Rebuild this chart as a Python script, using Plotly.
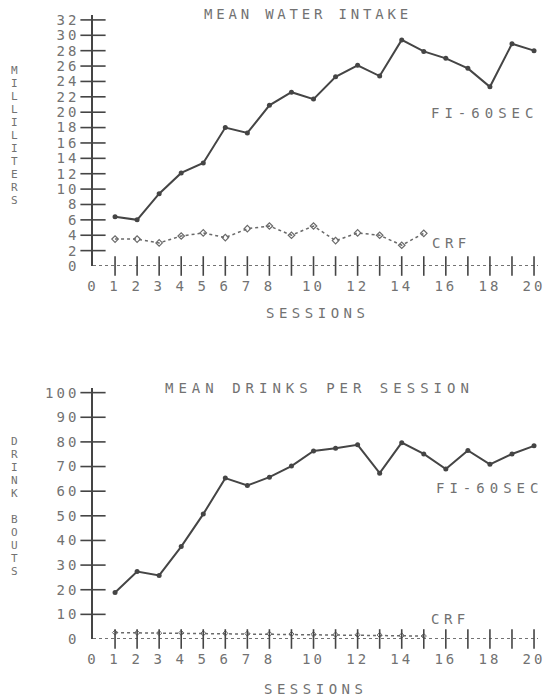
import plotly.graph_objects as go

# ---------------- data ----------------
sessions = list(range(1, 21))
crf_sessions = list(range(1, 16))
water_fi = [6.4, 6.0, 9.4, 12.1, 13.4, 18.0, 17.3, 20.9, 22.6, 21.7,
            24.6, 26.1, 24.7, 29.4, 27.9, 27.0, 25.7, 23.3, 28.9, 28.0]
water_crf = [3.5, 3.5, 3.0, 3.9, 4.3, 3.7, 4.85, 5.2, 4.0, 5.2,
             3.3, 4.3, 4.0, 2.7, 4.25]
drinks_fi = [18.9, 27.4, 25.8, 37.5, 50.7, 65.3, 62.3, 65.7, 70.2, 76.3,
             77.4, 78.8, 67.3, 79.7, 75.1, 69.0, 76.5, 70.9, 75.1, 78.4]
drinks_crf = [2.6, 2.5, 2.4, 2.5, 2.3, 2.3, 2.2, 2.1, 2.0, 1.9,
              1.8, 1.7, 1.6, 1.4, 1.2]
x_tickvals = [0, 1, 2, 3, 4, 5, 6, 7, 8, 10, 12, 14, 16, 18, 20]
water_ticks = list(range(0, 33, 2))
drink_ticks = list(range(0, 101, 10))

# ---------------- style ----------------
W, H = 549, 698
ML, MR, MT, MB = 93, 4, 15, 59
PW, PH = W - ML - MR, H - MT - MB
LINE = "#454545"
TXT = "#727272"
FONT = "DejaVu Sans Mono"


def spaced(s, ls):
    return f'<span style="letter-spacing:{ls}px">{s}</span>'


def px_x(p):
    return (p - ML) / PW


def px_y(p):
    return (H - MB - p) / PH


top_dom = [px_y(266), px_y(15.3)]
bot_dom = [0, px_y(387.7)]

fig = go.Figure()

# top panel
fig.add_trace(go.Scatter(x=sessions, y=water_fi, mode="lines+markers",
                         line=dict(color=LINE, width=2),
                         marker=dict(symbol="circle", size=5, color=LINE),
                         xaxis="x", yaxis="y", cliponaxis=False))
fig.add_trace(go.Scatter(x=crf_sessions, y=water_crf, mode="lines+markers",
                         line=dict(color="#6a6a6a", width=1.5, dash="dot"),
                         marker=dict(symbol="diamond-open", size=5, color="#6a6a6a",
                                     line=dict(width=1.2)),
                         xaxis="x", yaxis="y", cliponaxis=False))
# bottom panel
fig.add_trace(go.Scatter(x=sessions, y=drinks_fi, mode="lines+markers",
                         line=dict(color=LINE, width=2),
                         marker=dict(symbol="circle", size=5, color=LINE),
                         xaxis="x2", yaxis="y2", cliponaxis=False))
fig.add_trace(go.Scatter(x=crf_sessions, y=drinks_crf, mode="lines+markers",
                         line=dict(color="#6a6a6a", width=1.5, dash="dot"),
                         marker=dict(symbol="diamond-open", size=4, color="#6a6a6a",
                                     line=dict(width=1)),
                         xaxis="x2", yaxis="y2", cliponaxis=False))

# tick crosses
for xa, ya, yt in (("x", "y", water_ticks), ("x2", "y2", drink_ticks)):
    fig.add_trace(go.Scatter(x=sessions, y=[0] * len(sessions), mode="markers",
                             marker=dict(symbol="line-ns", size=14,
                                         line=dict(color=LINE, width=1.6)),
                             xaxis=xa, yaxis=ya, cliponaxis=False))
    fig.add_trace(go.Scatter(x=[0] * (len(yt) - 1), y=yt[1:], mode="markers",
                             marker=dict(symbol="line-ew", size=18,
                                         line=dict(color=LINE, width=1.6)),
                             xaxis=xa, yaxis=ya, cliponaxis=False))

xt_text = [spaced(str(v), 3) for v in x_tickvals]
common_x = dict(range=[0, 20.18], tickmode="array", tickvals=x_tickvals,
                ticktext=xt_text, showgrid=False, zeroline=False, showline=False,
                ticks="", ticklabelstandoff=10, ticklabeloverflow="allow",
                tickfont=dict(family=FONT, size=14, color=TXT), domain=[0, 1])
fig.update_layout(
    width=W, height=H, margin=dict(l=ML, r=MR, t=MT, b=MB),
    paper_bgcolor="white", plot_bgcolor="white", showlegend=False,
    xaxis=dict(anchor="y", **common_x),
    xaxis2=dict(anchor="y2", **common_x),
    yaxis=dict(domain=top_dom, range=[0, 32.6], tickmode="array",
               tickvals=water_ticks, ticktext=[spaced(str(v), 3) for v in water_ticks],
               showgrid=False, zeroline=False, showline=True, linecolor=LINE,
               linewidth=1.6, ticks="", ticklabelstandoff=9,
               tickfont=dict(family=FONT, size=14, color=TXT)),
    yaxis2=dict(domain=bot_dom, range=[0, 102], tickmode="array",
                tickvals=drink_ticks, ticktext=[spaced(str(v), 3) for v in drink_ticks],
                showgrid=False, zeroline=False, showline=True, linecolor=LINE,
                linewidth=1.6, ticks="", ticklabelstandoff=9,
                tickfont=dict(family=FONT, size=14, color=TXT)),
)

# dotted x axis lines
for xa, ya in (("x", "y"), ("x2", "y2")):
    fig.add_shape(type="line", xref=f"{xa} domain", yref=ya, x0=0, x1=1, y0=0, y1=0,
                  line=dict(color=LINE, width=1.5, dash="dot"), layer="below")


def ann(text, x, y, size=14, ls=3.5, xanchor="center"):
    fig.add_annotation(text=spaced(text, ls), x=px_x(x), y=px_y(y), xref="paper",
                       yref="paper", showarrow=False, xanchor=xanchor,
                       yanchor="middle", font=dict(family=FONT, size=size, color=TXT))


ann("MEAN WATER INTAKE", 311, 14, ls=3.8)
ann("MEAN DRINKS PER SESSION", 323, 388, ls=5)
ann("SESSIONS", 321, 313, ls=4.5)
ann("SESSIONS", 319, 689, ls=4.5)
ann("FI-60SEC", 491, 113, ls=5)
ann("FI-60SEC", 496, 488, ls=5)
ann("CRF", 457, 243, ls=4.5)
ann("CRF", 456, 619, ls=4.5)


def vertical(text, x, y_center):
    rows = [f'<span style="font-size:11px">{c if c != " " else "&nbsp;"}</span>'
            for c in text]
    fig.add_annotation(text="<br>".join(rows), x=px_x(x), y=px_y(y_center),
                       xref="paper", yref="paper", showarrow=False,
                       xanchor="center", yanchor="middle",
                       font=dict(family=FONT, size=10, color=TXT))


vertical("MILLILITERS", 13, 135)
vertical("DRINK BOUTS", 13, 506)

fig.write_html("out.html", post_script="document.body.style.margin='0px';",
               config={"displayModeBar": False})
